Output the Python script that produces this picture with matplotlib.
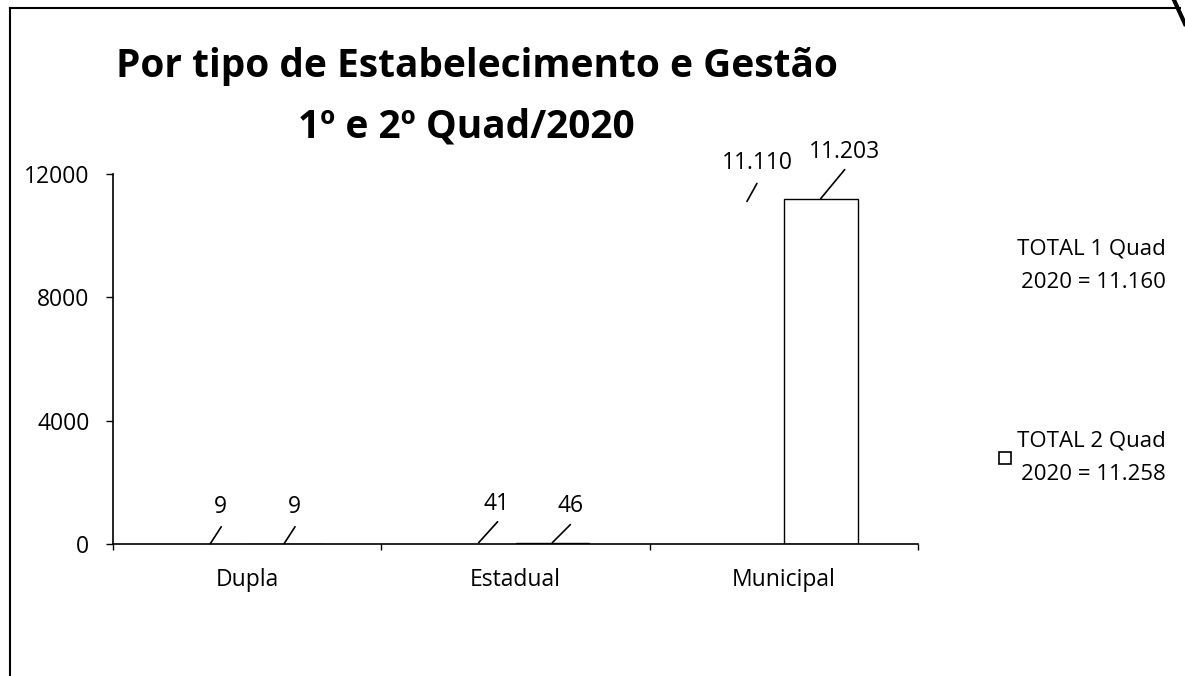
import matplotlib
matplotlib.use("Agg")
import matplotlib.pyplot as plt
import numpy as np
from matplotlib.patches import Patch
from matplotlib.lines import Line2D

# ---- data ----
categories = ["Dupla", "Estadual", "Municipal"]
quad1 = [9, 41, 11110]
quad2 = [9, 46, 11203]
quad1_labels = ["9", "41", "11.110"]
quad2_labels = ["9", "46", "11.203"]
legend_labels = ["TOTAL 1 Quad\n2020 = 11.160", "TOTAL 2 Quad\n2020 = 11.258"]
yticks = [0, 4000, 8000, 12000]
title_lines = ["Por tipo de Estabelecimento e Gestão", "1º e 2º Quad/2020"]

plt.rcParams["font.family"] = ["Open Sans", "DejaVu Sans"]

W, H = 1185, 676
FS = 16.5
fig = plt.figure(figsize=(W / 100, H / 100), dpi=100)
fig.patch.set_facecolor("white")

ax = fig.add_axes([113 / W, 1 - 544 / H, (918 - 113) / W, (544 - 174) / H])
x = np.arange(len(categories))
bw = 0.275
b1 = ax.bar(x - bw / 2, quad1, bw, color="white", edgecolor="none")
b2 = ax.bar(x + bw / 2, quad2, bw, color="white", edgecolor="black", linewidth=1.0)

ax.set_xlim(-0.5, len(categories) - 0.5)
ax.set_ylim(0, 12000)
ax.set_yticks(yticks)
ax.set_yticklabels([str(v) for v in yticks], fontsize=FS)
ax.set_xticks(np.arange(len(categories) + 1) - 0.5)
ax.set_xticklabels([])
ax.set_xticks(x, minor=True)
ax.set_xticklabels(categories, minor=True, fontsize=FS)
ax.tick_params(axis="x", which="major", direction="out", length=4, width=1)
ax.tick_params(axis="x", which="minor", length=0, pad=17)
ax.tick_params(axis="y", direction="out", length=5, width=1, pad=12)
for s in ["top", "right"]:
    ax.spines[s].set_visible(False)
for s in ["left", "bottom"]:
    ax.spines[s].set_linewidth(1.2)

# value labels with leader lines (offsets in pixels: line end, text centre)
offs1 = [((11, 17), (10, 37)), ((19, 21), (18, 39)), ((10, 18), (10, 38))]
offs2 = [((11, 17), (10, 37)), ((18, 18), (18, 37)), ((24, 29), (24, 47))]
for bars, labels, offs in [(b1, quad1_labels, offs1), (b2, quad2_labels, offs2)]:
    for rect, lab, (lo, to) in zip(bars, labels, offs):
        xc = rect.get_x() + rect.get_width() / 2
        yt = rect.get_height()
        ax.annotate("", xy=(xc, yt), xytext=lo, textcoords="offset pixels",
                    arrowprops=dict(arrowstyle="-", color="black", lw=1.2,
                                    shrinkA=0, shrinkB=0))
        ax.annotate(lab, xy=(xc, yt), xytext=to, textcoords="offset pixels",
                    ha="center", va="center", fontsize=FS)

# legend
handles = [Patch(facecolor="white", edgecolor="none"),
           Patch(facecolor="white", edgecolor="black", linewidth=1.2)]
leg = fig.legend(handles, legend_labels, loc="upper right",
                 bbox_to_anchor=(1166 / W, 1 - 239 / H), frameon=False,
                 fontsize=16, labelspacing=6.2, handlelength=0.5,
                 handleheight=0.5, handletextpad=0.3, borderpad=0,
                 borderaxespad=0)
for t in leg.get_texts():
    t.set_multialignment("right")
    t.set_linespacing(1.75)

# title
fig.text(477 / W, 1 - 67 / H, title_lines[0], ha="center", va="center",
         fontsize=28, fontweight="bold")
fig.text(466 / W, 1 - 127 / H, title_lines[1], ha="center", va="center",
         fontsize=28, fontweight="bold")

# scanned page border
fig.add_artist(Line2D([10 / W, 10 / W], [0, 1 - 8 / H], color="black", lw=1.5))
fig.add_artist(Line2D([10 / W, 1180 / W], [1 - 8 / H, 1 - 8 / H], color="black", lw=1.5))
fig.add_artist(Line2D([1174 / W, 1185 / W], [1, 1 - 24 / H], color="black", lw=3))

fig.savefig("out.png", dpi=100, facecolor="white")
